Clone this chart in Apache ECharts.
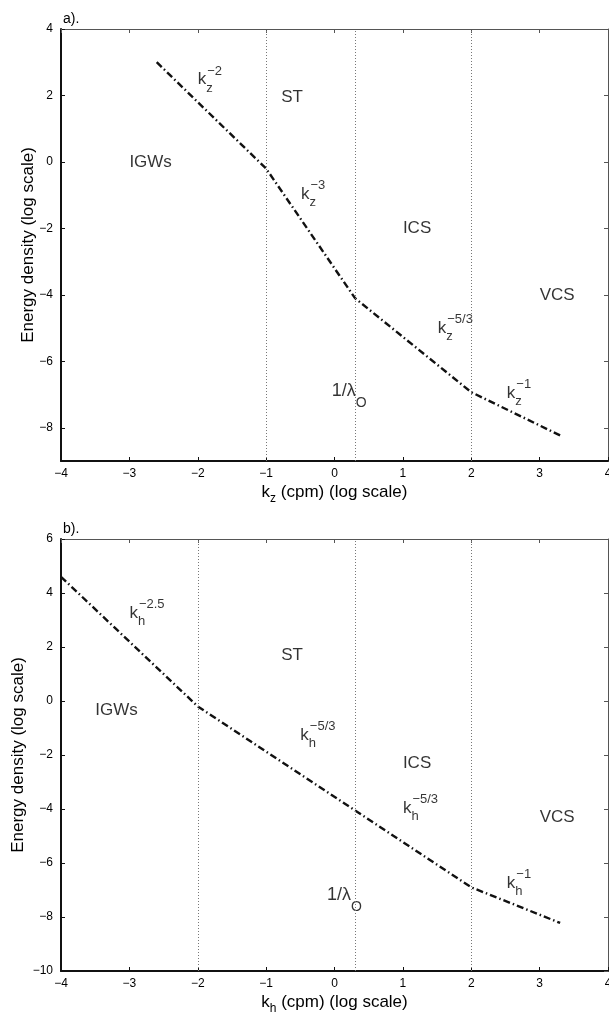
<!DOCTYPE html>
<html><head><meta charset="utf-8">
<script src="https://cdn.jsdelivr.net/npm/echarts@6/dist/echarts.min.js"></script>
<style>html,body{margin:0;padding:0;background:#fff}#c{width:609px;height:1014px}</style>
</head><body><div id="c"></div>
<script>
// ---- data (panel a) ----
const kzA = [-2.6, -1, 0.3, 2, 3.3];
const eA = [3.0, -0.2, -4.1, -6.93, -8.23];
const vlinesA = [-1, 0.3, 2];
const yTicksA = [-8, -6, -4, -2, 0, 2, 4];
const regionTextA = ['IGWs', 'ST', 'ICS', 'VCS'];
const regionXA = [-3.0, -0.78, 1.0, 3.0];
const regionYA = [0.0, 1.95, -2.0, -4.0];
const powSubA = ['z', 'z', 'z', 'z'];
const powSupA = ['\u22122', '\u22123', '\u22125/3', '\u22121'];
const powXA = [-2.0, -0.49, 1.51, 2.52];
const powYA = [2.48, -0.97, -5.0, -6.96];
const lamXA = [-0.04];
const lamYA = [-6.9];

// ---- data (panel b) ----
const khB = [-4, -2, 0.3, 2, 3.3];
const eB = [4.6, -0.2, -4.05, -6.9, -8.22];
const vlinesB = [-2, 0.3, 2];
const yTicksB = [-10, -8, -6, -4, -2, 0, 2, 4, 6];
const regionTextB = ['IGWs', 'ST', 'ICS', 'VCS'];
const regionXB = [-3.5, -0.78, 1.0, 3.0];
const regionYB = [-0.33, 1.7, -2.3, -4.3];
const powSubB = ['h', 'h', 'h', 'h'];
const powSupB = ['\u22122.5', '\u22125/3', '\u22125/3', '\u22121'];
const powXB = [-3.0, -0.5, 1.0, 2.52];
const powYB = [3.26, -1.26, -3.96, -6.74];
const lamXB = [-0.11];
const lamYB = [-7.2];

const FONT = 'Liberation Sans, Arial, Helvetica, sans-serif';
const INK = '#000';
const minus = v => String(v).replace('-', '\u2212');

const chart = echarts.init(document.getElementById('c'), null, {renderer: 'canvas'});

const richPow = {
  k: {fontSize: 17, lineHeight: 30, fontFamily: FONT, color: INK},
  s: {fontSize: 13, lineHeight: 13, verticalAlign: 'bottom', width: 1, fontFamily: FONT, color: INK},
  p: {fontSize: 13, lineHeight: 13, verticalAlign: 'top', fontFamily: FONT, color: INK},
  l: {fontSize: 18, lineHeight: 38, fontFamily: FONT, color: INK},
  o: {fontSize: 14, lineHeight: 14, verticalAlign: 'bottom', fontFamily: FONT, color: INK},
  t: {fontSize: 17, lineHeight: 22, fontFamily: FONT, color: INK}
};

function annoData(rT, rX, rY, pSub, pSup, pX, pY, lX, lY) {
  const d = [];
  rT.forEach((t, i) => d.push({value: [rX[i], rY[i]], lab: '{t|' + t + '}'}));
  pSub.forEach((s, i) => d.push({value: [pX[i], pY[i]], lab: '{k|k}{s|' + s + '}{p|' + pSup[i] + '}'}));
  lX.forEach((x, i) => d.push({value: [x, lY[i]], lab: '{l|1/\u03bb}{o|O}'}));
  return d;
}

function grids(top) {
  return {left: 61, right: 1, top: top, height: 432, containLabel: false, outerBoundsMode: 'none'};
}

function xAxes(gi, sub) {
  return [
    {gridIndex: gi, type: 'value', min: -4, max: 4, interval: 1, position: 'bottom',
     axisLine: {onZero: false, lineStyle: {color: '#111', width: 2}},
     axisTick: {inside: true, length: 4, lineStyle: {color: '#111'}},
     axisLabel: {fontSize: 12, fontFamily: FONT, color: INK, margin: 7, formatter: minus},
     splitLine: {show: false},
     name: '{a|k}{b|' + sub + '}{c| (cpm) (log scale)}', nameLocation: 'middle', nameGap: 18,
     nameMoveOverlap: false,
     nameTextStyle: {rich: {
       a: {fontSize: 17, lineHeight: 26, fontFamily: FONT, color: INK},
       b: {fontSize: 12, lineHeight: 12, verticalAlign: 'bottom', fontFamily: FONT, color: INK},
       c: {fontSize: 17, lineHeight: 26, fontFamily: FONT, color: INK}}}},
    {gridIndex: gi, type: 'value', min: -4, max: 4, interval: 1, position: 'top',
     axisLine: {onZero: false, lineStyle: {color: '#555', width: 1}},
     axisTick: {inside: true, length: 4, lineStyle: {color: '#555'}},
     axisLabel: {show: false}, splitLine: {show: false}}
  ];
}

function yAxes(gi, mn, mx, ticks, gap) {
  return [
    {gridIndex: gi, type: 'value', min: mn, max: mx, position: 'left',
     axisLine: {show: true, onZero: false, lineStyle: {color: '#111', width: 2}},
     axisTick: {show: true, inside: true, length: 4, customValues: ticks, lineStyle: {color: '#111'}},
     axisLabel: {fontSize: 12, fontFamily: FONT, color: INK, margin: 8, customValues: ticks, formatter: minus},
     splitLine: {show: false},
     name: 'Energy density (log scale)', nameLocation: 'middle', nameRotate: 90, nameGap: gap,
     nameMoveOverlap: false,
     nameTextStyle: {fontSize: 17, fontFamily: FONT, color: INK}},
    {gridIndex: gi, type: 'value', min: mn, max: mx, position: 'right',
     axisLine: {show: true, onZero: false, lineStyle: {color: '#555', width: 1}},
     axisTick: {show: true, inside: true, length: 4, customValues: ticks, lineStyle: {color: '#555'}},
     axisLabel: {show: false}, splitLine: {show: false}}
  ];
}

function lineSeries(xi, yi, xs, ys, vl) {
  return {
    type: 'line', xAxisIndex: xi, yAxisIndex: yi, symbol: 'none', silent: true,
    data: xs.map((x, i) => [x, ys[i]]),
    lineStyle: {color: '#111', width: 2.4, type: [7, 3, 1.5, 3]},
    markLine: {symbol: 'none', silent: true, label: {show: false},
      lineStyle: {color: '#777', width: 1, type: [1, 2]},
      data: vl.map(v => ({xAxis: v}))},
    z: 3
  };
}

function annoSeries(xi, yi, data) {
  return {
    type: 'scatter', xAxisIndex: xi, yAxisIndex: yi, symbolSize: 0, silent: true,
    data: data,
    label: {show: true, position: 'right', distance: 0,
      formatter: p => p.data.lab, rich: richPow}
  };
}

const option = {
  animation: false,
  backgroundColor: '#fff',
  textStyle: {fontFamily: FONT},
  title: [
    {text: 'a).', left: 58, top: 7, textStyle: {fontSize: 14, fontWeight: 'normal', fontFamily: FONT, color: INK}},
    {text: 'b).', left: 58, top: 517, textStyle: {fontSize: 14, fontWeight: 'normal', fontFamily: FONT, color: INK}}
  ],
  grid: [grids(29), grids(539)],
  xAxis: [...xAxes(0, 'z'), ...xAxes(1, 'h')],
  yAxis: [...yAxes(0, -9, 4, yTicksA, 24), ...yAxes(1, -10, 6, yTicksB, 34)],
  series: [
    lineSeries(0, 0, kzA, eA, vlinesA),
    lineSeries(2, 2, khB, eB, vlinesB),
    annoSeries(0, 0, annoData(regionTextA, regionXA, regionYA, powSubA, powSupA, powXA, powYA, lamXA, lamYA)),
    annoSeries(2, 2, annoData(regionTextB, regionXB, regionYB, powSubB, powSupB, powXB, powYB, lamXB, lamYB))
  ]
};
chart.setOption(option);
</script></body></html>
